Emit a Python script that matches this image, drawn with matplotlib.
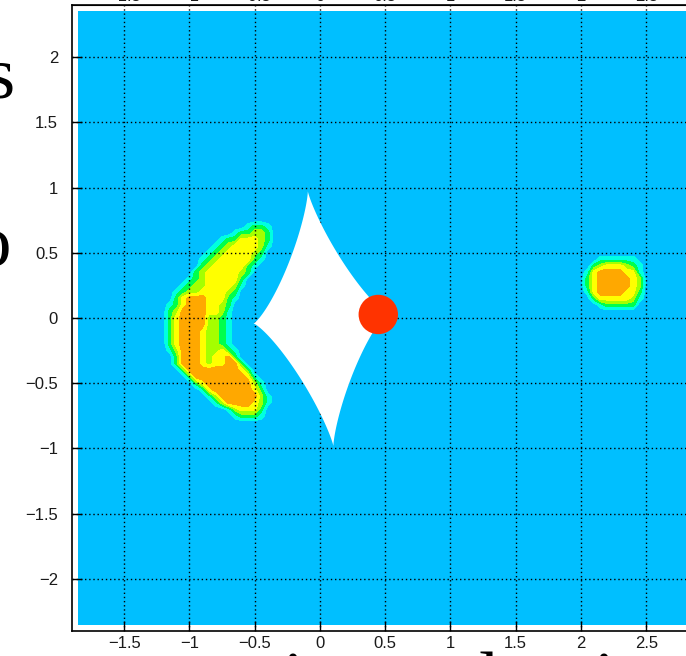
import numpy as np
import matplotlib
matplotlib.use("Agg")
import matplotlib.pyplot as plt
from matplotlib.patches import Polygon, Circle

# map grid (data units)
x_min, x_max = -1.85, 2.90
y_min, y_max = -2.35, 2.35
step = 0.05

# levels 0..5, one string per row, top row first
banana_corner = (-1.25, 0.80)
banana_rows = [
    "00000000000000000000",
    "00000000000000000000",
    "00000000000000122100",
    "00000000000012233200",
    "00000000001224443200",
    "00000000012344443100",
    "00000000123444432000",
    "00000001234444421000",
    "00000002344444210000",
    "00000023444443200000",
    "00000123444442000000",
    "00001233444431000000",
    "00012334444320000000",
    "00024555444210000000",
    "00124555443200000000",
    "00235555443100000000",
    "00245555332100000000",
    "00245555332100000000",
    "00245554332100000000",
    "00245554332100000000",
    "00245554332100000000",
    "00135554334210000000",
    "00025554344520000000",
    "00025554344552000000",
    "00002555555554200000",
    "00000255555555410000",
    "00000024555555531000",
    "00000001455555542000",
    "00000000135555553100",
    "00000000013555543100",
    "00000000000134442000",
    "00000000000012221000",
    "00000000000000000000",
    "00000000000000000000",
]
blob_corner = (2.00, 0.50)
blob_rows = [
    "000000000000",
    "000111111000",
    "002344432100",
    "014555544100",
    "024555554300",
    "024555554300",
    "014555544200",
    "002444443100",
    "000122222000",
    "000000000000",
]

level_colors = ['#00BFFF', '#00FFE1', '#00FF4C', '#A5FF00', '#FFFF00', '#FFA800']

# caustic cusps (right, top, left, bottom) and the source
cusp_x = [0.52, -0.093, -0.509, 0.103]
cusp_y = [0.034, 0.972, -0.042, -0.982]
source_x, source_y, source_r = 0.447, 0.027, 0.151

xticks = [-1.5, -1, -0.5, 0, 0.5, 1, 1.5, 2, 2.5]
xlabels = ['\u22121.5', '\u22121', '\u22120.5', '0', '0.5', '1', '1.5', '2', '2.5']
yticks = [-2, -1.5, -1, -0.5, 0, 0.5, 1, 1.5, 2]
ylabels = ['\u22122', '\u22121.5', '\u22121', '\u22120.5', '0', '0.5', '1', '1.5', '2']

xs = np.round(np.arange(x_min, x_max + step / 2, step), 3)
ys = np.round(np.arange(y_min, y_max + step / 2, step), 3)
Z = np.zeros((len(ys), len(xs)))


def paste(rows, corner):
    i0 = int(round((corner[1] - y_min) / step))
    j0 = int(round((corner[0] - x_min) / step))
    for k, row in enumerate(rows):
        Z[i0 - k, j0:j0 + len(row)] = [int(c) for c in row]


paste(banana_rows, banana_corner)
paste(blob_rows, blob_corner)

fig = plt.figure(figsize=(6.86, 6.56), dpi=100)
ax = fig.add_axes([72 / 686, 25 / 656, 626.4 / 686, 626 / 656])
ax.contourf(xs, ys, Z, levels=np.arange(-0.5, 6), colors=level_colors, zorder=1)

# caustic: curved diamond between the four cusps
t = np.linspace(0, np.pi / 2, 120)
cx, cy = np.mean(cusp_x), np.mean(cusp_y)
pts = []
for k in range(4):
    a = np.cos(t) ** 2.5
    b = np.sin(t) ** 2.5
    px = cx + a * (cusp_x[k] - cx) + b * (cusp_x[(k + 1) % 4] - cx)
    py = cy + a * (cusp_y[k] - cy) + b * (cusp_y[(k + 1) % 4] - cy)
    pts.append(np.column_stack([px, py]))
ax.add_patch(Polygon(np.vstack(pts), closed=True, facecolor='white',
                     edgecolor='none', zorder=3))
ax.add_patch(Circle((source_x, source_y), source_r, facecolor='#FF3300',
                    edgecolor='none', zorder=4))

ax.set_xlim(-1.9, 2.9)
ax.set_ylim(-2.4, 2.4)
ax.set_axisbelow(False)
ax.grid(True, color='black', linestyle=(0, (1, 2)), linewidth=1.0)
ax.set_xticks(xticks, xlabels)
ax.set_yticks(yticks, ylabels)
ax.tick_params(direction='in', length=7, width=1, top=False, right=False,
               labelsize=12, labelcolor='#1a1a1a', labelfontfamily='Liberation Sans')
ax.tick_params(axis='x', pad=3.5)
ax.tick_params(axis='y', pad=10)
for s in ax.spines.values():
    s.set_linewidth(1.2)

top = ax.secondary_xaxis('top')
top.set_xticks(xticks, xlabels)
top.tick_params(length=0, pad=0.5, labelsize=12, labelcolor='#1a1a1a',
                labelfontfamily='Liberation Sans')

# bits of the slide text around the plot
serif = dict(family='Liberation Serif', fontsize=54, va='baseline')
fig.text(15 / 686, 1 - 97 / 656, 's', ha='right', **serif)
fig.text(11 / 686, 1 - 266 / 656, 'o', ha='right', **serif)
fig.text(293 / 686, 1 - 703 / 656, 'i', ha='center', **serif)
fig.text(489 / 686, 1 - 703 / 656, 'l', ha='center', **serif)
fig.text(604 / 686, 1 - 703 / 656, 'i', ha='center', **serif)

fig.savefig('out.png', dpi=100)
